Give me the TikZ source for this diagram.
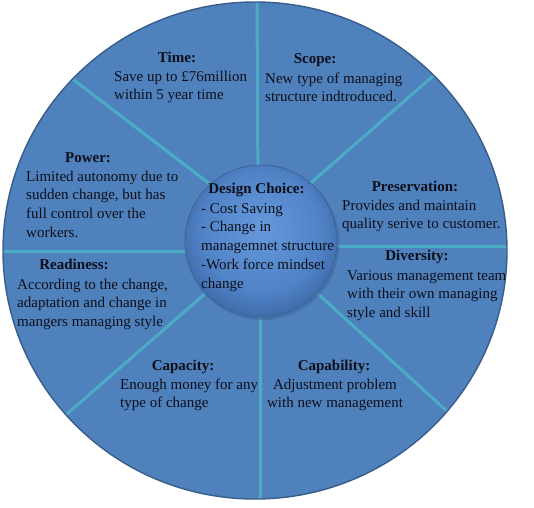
\documentclass[tikz,border=0pt]{standalone}
\usepackage{fontspec}
\setmainfont{Liberation Serif}
\usetikzlibrary{calc}
\definecolor{discblue}{RGB}{79,129,189}
\definecolor{discedge}{RGB}{56,93,138}
\definecolor{spokecol}{RGB}{75,172,198}
\definecolor{hubin}{RGB}{102,153,220}
\definecolor{hubmid}{RGB}{80,130,198}
\definecolor{hubout}{RGB}{55,100,160}
\definecolor{hubedge}{RGB}{60,100,150}
\definecolor{inktext}{RGB}{15,15,25}
\pgfdeclareradialshading{hubshade}{\pgfpoint{0bp}{5bp}}{color(0bp)=(hubin); color(20bp)=(hubmid); color(30bp)=(hubout); color(50bp)=(hubout)}
\newcommand\blk[1]{\begin{tabular}[t]{@{}l@{}}#1\end{tabular}}
\newcommand\blkc[1]{\begin{tabular}[t]{@{}c@{}}#1\end{tabular}}
\begin{document}
\begin{tikzpicture}[x=1pt,y=-1pt,
  txt/.style={inner sep=0pt, font=\fontsize{15}{18.8}\selectfont, text=inktext},
  ttl/.style={inner sep=0pt, anchor=base, font=\fontsize{15}{18.8}\selectfont\bfseries, text=inktext},
  body/.style={txt, anchor=base west},
  bodyc/.style={txt, anchor=base},
  spoke/.style={draw=spokecol, line width=3pt}]
\useasboundingbox[fill=white] (0,0) rectangle (534,507);
\coordinate (C) at (255,250.5);
\coordinate (IC) at (261,241);
\coordinate (ICs) at (262.5,243);
% outer disc
\fill[discblue] (C) ellipse [x radius=252, y radius=248.5];
% spokes
\coordinate (t1) at (257,-5);   \coordinate (t2) at (258,200);
\coordinate (b1) at (260,510);  \coordinate (b2) at (260,290);
\coordinate (l1) at (-5,251);   \coordinate (l2) at (220,251);
\coordinate (r1) at (515,246);  \coordinate (r2) at (300,246);
\coordinate (ul1) at (60,69.3); \coordinate (ul2) at (215,188);
\coordinate (ur1) at (445,65.5);\coordinate (ur2) at (305,188);
\coordinate (ll1) at (55,424.4);\coordinate (ll2) at (215,285);
\coordinate (lr1) at (460,423); \coordinate (lr2) at (305,282);
\begin{scope}
\clip (C) ellipse [x radius=252, y radius=248.5];
\draw[spoke] (t1) -- (t2);
\draw[spoke] (b1) -- (b2);
\draw[spoke] (l1) -- (l2);
\draw[spoke] (r1) -- (r2);
\draw[spoke] (ul1) -- (ul2);
\draw[spoke] (ur1) -- (ur2);
\draw[spoke] (ll1) -- (ll2);
\draw[spoke] (lr1) -- (lr2);
\end{scope}
\draw[discedge, line width=1.4pt] (C) ellipse [x radius=252, y radius=248.5];
% hub
\fill[hubedge, opacity=0.5] (ICs) circle [radius=77];
\node[circle, inner sep=0pt, minimum size=152pt, shading=hubshade, draw=hubedge, line width=0.8pt] (hub) at (IC) {};
% texts
\node[ttl] (timeT) at (177,62) {Time:};
\node[body] (timeB) at (114,81) {\blk{Save up to £76million\\within 5 year time}};
\node[ttl] (scopeT) at (315,63) {Scope:};
\node[body] (scopeB) at (265,83) {\blk{New type of managing\\structure indtroduced.}};
\node[ttl] (powerT) at (88,162) {Power:};
\node[body] (powerB) at (26,181) {\blk{Limited autonomy due to\\sudden change, but has\\full control over the\\workers.}};
\node[ttl] (presT) at (415,191) {Preservation:};
\node[body] (presB) at (342,210) {\blk{Provides and maintain\\quality serive to customer.}};
\node[ttl] (divT) at (417,260) {Diversity:};
\node[body] (divB) at (347,280) {\blk{Various management team\\with their own managing\\style and skill}};
\node[ttl] (readT) at (74,269) {Readiness:};
\node[body] (readB) at (17,289) {\blk{According to the change,\\adaptation and change in\\mangers managing style}};
\node[ttl] (capaT) at (183,370) {Capacity:};
\node[body] (capaB) at (120,389) {\blk{Enough money for any\\type of change}};
\node[ttl] (capbT) at (334,370) {Capability:};
\node[bodyc] (capbB) at (335,389) {\blkc{Adjustment problem\\with new management}};
\node[ttl] (dcT) at (256.5,193) {Design Choice:};
\node[body] (dcB) at (201,213) {\blk{- Cost Saving\\- Change in\\managemnet structure\\-Work force mindset\\change}};
\end{tikzpicture}
\end{document}
